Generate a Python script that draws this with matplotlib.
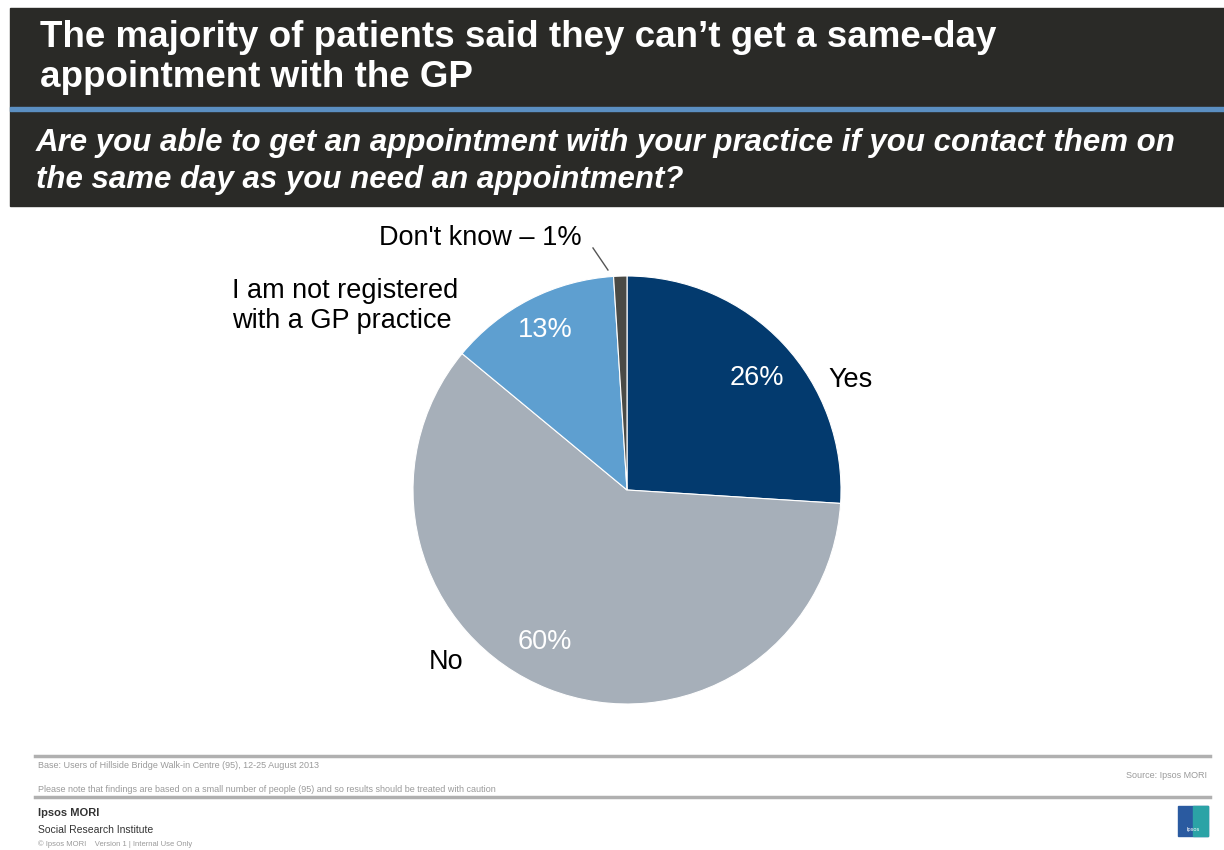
import matplotlib
matplotlib.use("Agg")
import matplotlib.pyplot as plt
from matplotlib.patches import Rectangle

categories = ["Yes", "No", "I am not registered\nwith a GP practice", "Don't know"]
values = [26, 60, 13, 1]
pct_labels = ["26%", "60%", "13%", ""]
colors = ["#033a6e", "#a6afb9", "#5e9fd0", "#4a4a45"]

title = "The majority of patients said they can\u2019t get a same-day\nappointment with the GP"
subtitle = "Are you able to get an appointment with your practice if you contact them on\nthe same day as you need an appointment?"

W, H = 1224, 850
fig = plt.figure(figsize=(W / 100, H / 100), dpi=100)
plt.rcParams['font.family'] = ['Liberation Sans', 'DejaVu Sans']

def fx(x):
    return x / W

def fy(y):
    return 1 - y / H

# header
fig.add_artist(Rectangle((fx(10), fy(206)), fx(1224) - fx(10), fy(8) - fy(206),
                         transform=fig.transFigure, color="#2a2a27", zorder=0))
fig.add_artist(Rectangle((fx(10), fy(111)), fx(1224) - fx(10), fy(107) - fy(111),
                         transform=fig.transFigure, color="#5b8fc2", zorder=1))
fig.text(fx(40), fy(20), title, color="white", fontsize=26.5, fontweight="bold",
         va="top", ha="left", linespacing=1.17)
fig.text(fx(36), fy(128), subtitle, color="white", fontsize=22.5, fontweight="bold",
         style="italic", va="top", ha="left", linespacing=1.3)

# pie
cx, cy, r = 627, 490, 214
ax = fig.add_axes([fx(cx - r), fy(cy + r), (2 * r) / W, (2 * r) / H])
wedges, texts = ax.pie(values, colors=colors, startangle=90, counterclock=False,
                       labels=pct_labels, labeldistance=0.68,
                       wedgeprops=dict(edgecolor="white", linewidth=0.8),
                       textprops=dict(color="white", fontsize=19.5))
ax.set_xlim(-1, 1)
ax.set_ylim(-1, 1)
ax.set_aspect("equal")
ax.axis("off")

# adjust percentage label positions to match reference
pos = [(0.607, 0.523), (-0.383, -0.710), (-0.383, 0.748)]
for t, p in zip(texts[:3], pos):
    t.set_position(p)
    t.set_ha("center")
    t.set_va("center")

# outside category labels
lab_fs = 19.5
ax.text(0.939, 0.514, categories[0], fontsize=lab_fs, color="black", ha="left", va="center")
ax.text(-0.846, -0.804, categories[1], fontsize=lab_fs, color="black", ha="center", va="center")
ax.text(-1.846, 0.86, categories[2], fontsize=lab_fs, color="black", ha="left", va="center",
        linespacing=1.2)
ax.text(-0.21, 1.178, categories[3] + " \u2013 1%", fontsize=lab_fs, color="black",
        ha="right", va="center")
ax.plot([-0.159, -0.089], [1.131, 1.028], color="#555555", lw=1, clip_on=False)

# footer
for y in (756, 797):
    fig.add_artist(plt.Line2D([fx(35), fx(1210)], [fy(y), fy(y)], transform=fig.transFigure,
                              color="#b0b0b0", lw=2.5))
fig.text(fx(38), fy(765), "Base: Users of Hillside Bridge Walk-in Centre (95), 12-25 August 2013",
         fontsize=6.5, color="#9a9a9a", va="center")
fig.text(fx(38), fy(789), "Please note that findings are based on a small number of people (95) and so results should be treated with caution",
         fontsize=6.5, color="#9a9a9a", va="center")
fig.text(fx(1207), fy(776), "Source: Ipsos MORI", fontsize=6.5, color="#9a9a9a", va="center", ha="right")
fig.text(fx(38), fy(813), "Ipsos MORI", fontsize=8, color="#333333", fontweight="bold", va="center")
fig.text(fx(38), fy(830), "Social Research Institute", fontsize=7.5, color="#333333", va="center")
fig.text(fx(38), fy(844), "\u00a9 Ipsos MORI    Version 1 | Internal Use Only", fontsize=5.5, color="#9a9a9a", va="center")
fig.add_artist(Rectangle((fx(1178), fy(836)), fx(30), fy(806) - fy(836),
                         transform=fig.transFigure, color="#2a5aa0", zorder=2))
fig.add_artist(Rectangle((fx(1193), fy(836)), fx(15), fy(806) - fy(836),
                         transform=fig.transFigure, color="#2ba3a6", zorder=3))
fig.text(fx(1193), fy(830), "Ipsos", fontsize=4, color="white", ha="center", va="center", zorder=4)

fig.savefig("out.png", dpi=100)
